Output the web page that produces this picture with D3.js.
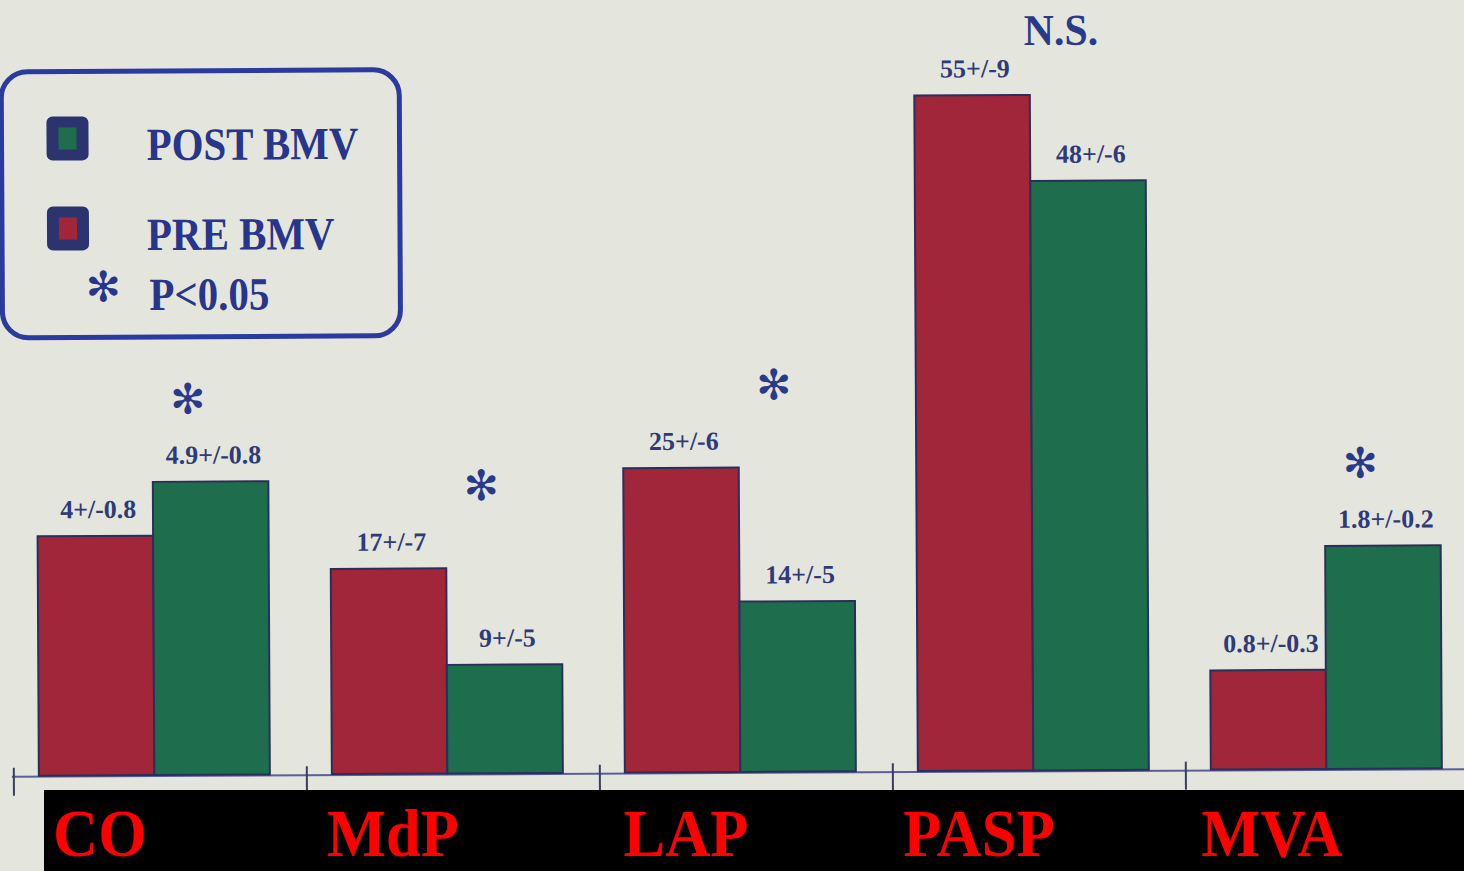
<!DOCTYPE html>
<html>
<head>
<meta charset="utf-8">
<script src="https://cdn.jsdelivr.net/npm/d3@7"></script>
<style>
  html, body { margin: 0; padding: 0; background: #e4e6de; }
  svg { display: block; }
</style>
</head>
<body>
<script>
// ---- data ----
const categories = ["CO", "MdP", "LAP", "PASP", "MVA"];
const preValues  = [4, 17, 25, 55, 0.8];
const preSD      = [0.8, 7, 6, 9, 0.3];
const postValues = [4.9, 9, 14, 48, 1.8];
const postSD     = [0.8, 5, 5, 6, 0.2];
// each group is drawn on its own scale (domain maximum of that group's axis)
const scaleMax   = [11.7, 58, 57.5, 57, 5.65];
const significance = ["✻", "✻", "✻", "N.S.", "✻"];
const seriesNames = ["PRE BMV", "POST BMV"];
const legendNote = "P<0.05";

// ---- layout ----
const W = 1464, H = 871;
const baseline = 772, plotH = 700;
const colors = { pre: "#a2263a", post: "#1e6e4d" };
const serif = "'Liberation Serif', 'Times New Roman', serif";

const svg = d3.select("body").append("svg").attr("width", W).attr("height", H);
svg.append("rect").attr("width", W).attr("height", H).attr("fill", "#e4e6de");

const g = svg.append("g").attr("transform", "rotate(-0.3, 732, 420)");

const x = d3.scaleBand().domain(categories).range([12, 12 + 293 * 5]).paddingInner(0);
const xs = d3.scaleBand().domain(["pre", "post"]).range([25, 256]);
const yScales = scaleMax.map(m => d3.scaleLinear().domain([0, m]).range([baseline, baseline - plotH]));

function sText(parent, txt, px, py, size, fill, sx, anchor) {
  return parent.append("text")
    .attr("transform", `translate(${px},${py}) scale(${sx},1)`)
    .attr("text-anchor", anchor || "middle")
    .attr("font-family", serif).attr("font-weight", "bold")
    .attr("font-size", size).attr("fill", fill).text(txt);
}

const rows = categories.map((c, i) => ({
  c, i,
  bars: [
    { k: "pre", v: preValues[i], sd: preSD[i] },
    { k: "post", v: postValues[i], sd: postSD[i] }
  ]
}));

// axis line + ticks
g.append("line").attr("x1", 10).attr("x2", W + 10).attr("y1", baseline + 1).attr("y2", baseline + 1)
  .attr("stroke", "#5a5f96").attr("stroke-width", 2);
g.selectAll(".tick").data(categories).enter().append("line")
  .attr("x1", d => x(d)).attr("x2", d => x(d))
  .attr("y1", baseline - 8).attr("y2", baseline + 20)
  .attr("stroke", "#3a3d60").attr("stroke-width", 2);

// bars
rows.forEach(r => {
  const y = yScales[r.i];
  const gg = g.append("g").attr("transform", `translate(${x(r.c)},0)`);
  gg.selectAll("rect").data(r.bars).enter().append("rect")
    .attr("x", d => xs(d.k)).attr("width", xs.bandwidth())
    .attr("y", d => y(d.v)).attr("height", d => baseline - y(d.v))
    .attr("fill", d => colors[d.k]).attr("stroke", "#2a2f5a").attr("stroke-width", 2);
  r.bars.forEach(d => {
    sText(gg, `${d.v}+/-${d.sd}`, xs(d.k) + xs.bandwidth() / 2 + 3, y(d.v) - 18, 26, "#2f3b78", 1.0);
  });
  const top = d3.min(r.bars, d => y(d.v));
  const sig = significance[r.i];
  if (sig === "N.S.") {
    sText(gg, sig, 172, top - 50, 44, "#2a3a8a", 0.95);
  } else {
    gg.append("text").attr("x", 176).attr("y", top - 68)
      .attr("text-anchor", "middle").attr("font-family", "'DejaVu Sans', sans-serif")
      .attr("font-size", 42).attr("fill", "#2a3a8a").text(sig);
  }
});

// legend
const lg = g.append("g");
lg.append("rect").attr("x", 3).attr("y", 68).attr("width", 398).attr("height", 266).attr("rx", 26)
  .attr("fill", "none").attr("stroke", "#2b3a9e").attr("stroke-width", 5);
const legendItems = [
  { name: seriesNames[1], color: colors.post, y: 113 },
  { name: seriesNames[0], color: colors.pre, y: 203 }
];
legendItems.forEach(it => {
  lg.append("rect").attr("x", 48).attr("y", it.y).attr("width", 42).attr("height", 44).attr("rx", 6).attr("fill", "#2c3470");
  lg.append("rect").attr("x", 60).attr("y", it.y + 11).attr("width", 18).attr("height", 22).attr("fill", it.color);
  sText(lg, it.name, 148, it.y + 44, 46, "#27358a", 0.89, "start");
});
lg.append("text").attr("x", 104).attr("y", 298).attr("text-anchor", "middle")
  .attr("font-family", "'DejaVu Sans', sans-serif").attr("font-size", 42).attr("fill", "#27358a").text("✻");
sText(lg, legendNote, 150, 307, 46, "#27358a", 0.89, "start");

// category band
svg.append("rect").attr("x", 44).attr("y", 790).attr("width", W - 44).attr("height", H - 790).attr("fill", "#000");
categories.forEach(c => {
  sText(svg, c, x(c) + 88, 856, 68, "#ff0000", 0.92);
});
</script>
</body>
</html>
